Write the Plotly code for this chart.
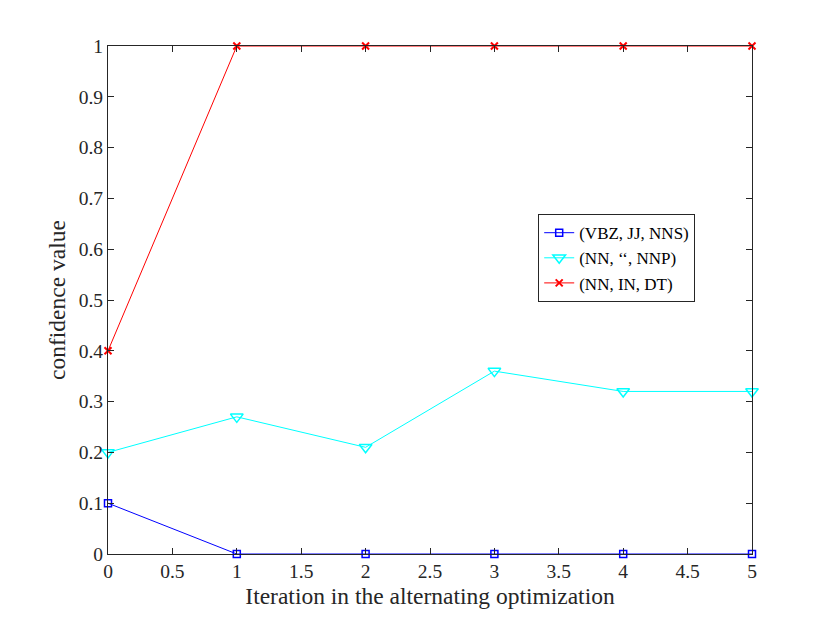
import plotly.graph_objects as go

iterations = [0, 1, 2, 3, 4, 5]
series_names = ["(VBZ, JJ, NNS)", "(NN, \u2018\u2018, NNP)", "(NN, IN, DT)"]
vbz_jj_nns = [0.1, 0.0, 0.0, 0.0, 0.0, 0.0]
nn_quote_nnp = [0.2, 0.27, 0.21, 0.36, 0.32, 0.32]
nn_in_dt = [0.4, 1.0, 1.0, 1.0, 1.0, 1.0]

x_ticks = [0, 0.5, 1, 1.5, 2, 2.5, 3, 3.5, 4, 4.5, 5]
x_tick_labels = ["0", "0.5", "1", "1.5", "2", "2.5", "3", "3.5", "4", "4.5", "5"]
y_ticks = [0, 0.1, 0.2, 0.3, 0.4, 0.5, 0.6, 0.7, 0.8, 0.9, 1]
y_tick_labels = ["0", "0.1", "0.2", "0.3", "0.4", "0.5", "0.6", "0.7", "0.8", "0.9", "1"]

fig = go.Figure()
fig.add_trace(go.Scatter(x=iterations, y=vbz_jj_nns, name=series_names[0], mode="lines+markers",
                         cliponaxis=False,
                         line=dict(color="#0000ff", width=1),
                         marker=dict(symbol="square-open", size=7, color="#0000ff", line=dict(width=1.5))))
fig.add_trace(go.Scatter(x=iterations, y=nn_quote_nnp, name=series_names[1], mode="lines+markers",
                         cliponaxis=False,
                         line=dict(color="#00ffff", width=1),
                         marker=dict(symbol="triangle-down-open", size=11, color="#00ffff", line=dict(width=1.5))))
fig.add_trace(go.Scatter(x=iterations, y=nn_in_dt, name=series_names[2], mode="lines+markers",
                         cliponaxis=False,
                         line=dict(color="#ff0000", width=1),
                         marker=dict(symbol="x-thin-open", size=7, color="#ff0000", line=dict(width=2, color="#ff0000"))))

axis_common = dict(showline=True, linecolor="#262626", linewidth=1, mirror="ticks",
                   ticks="inside", ticklen=6, tickcolor="#262626", showgrid=False, zeroline=False,
                   tickfont=dict(family="Liberation Serif", size=19.5, color="#262626"))

fig.update_layout(
    width=830, height=623,
    margin=dict(l=100, r=86, t=38, b=77),
    paper_bgcolor="white", plot_bgcolor="white",
    font=dict(family="Liberation Serif", color="#262626"),
    xaxis=dict(range=[0, 5], tickvals=x_ticks, ticktext=x_tick_labels,
               title=dict(text="Iteration in the alternating optimization",
                          font=dict(family="Liberation Serif", size=23.5), standoff=6),
               **axis_common),
    yaxis=dict(range=[0, 1], tickvals=y_ticks, ticktext=y_tick_labels,
               title=dict(text="confidence value",
                          font=dict(family="Liberation Serif", size=23.5), standoff=6),
               **axis_common),
    legend=dict(x=0.668, y=0.669, xanchor="left", yanchor="top",
                bgcolor="white", bordercolor="#262626", borderwidth=1,
                font=dict(family="Liberation Serif", size=17, color="#000000"),
                tracegroupgap=0, itemwidth=30),
    showlegend=True,
)

fig.write_html("out.html")
